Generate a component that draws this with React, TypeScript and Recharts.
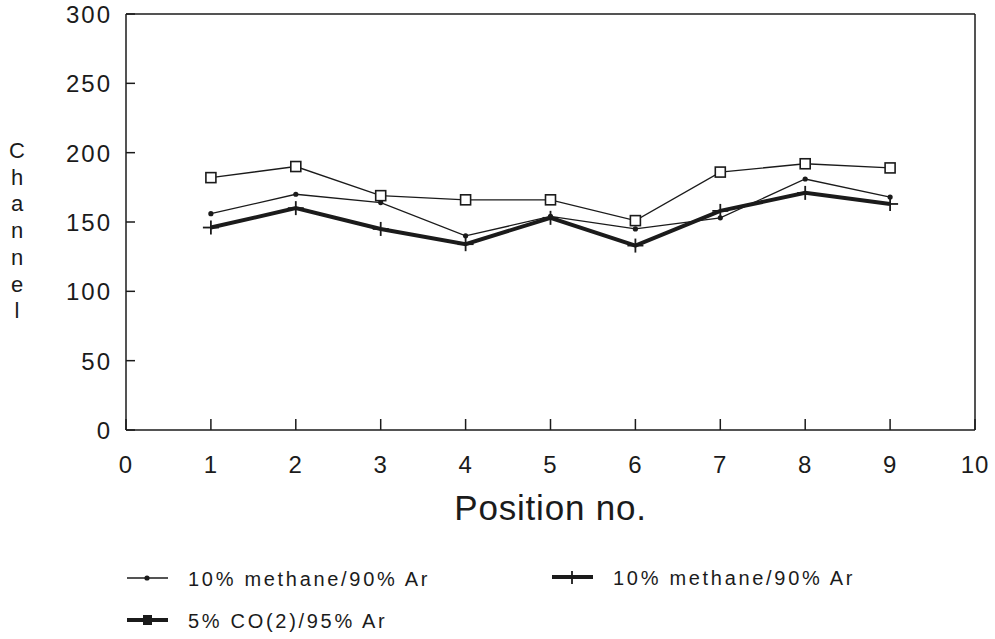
import { LineChart, Line, XAxis, YAxis, ReferenceLine, Legend } from 'recharts'

const positions = [1, 2, 3, 4, 5, 6, 7, 8, 9]
const methaneThin = [156, 170, 164, 140, 154, 145, 153, 181, 168]
const methaneThick = [146, 160, 145, 134, 153, 133, 158, 171, 163]
const co2Argon = [182, 190, 169, 166, 166, 151, 186, 192, 189]

const xTicks = [0, 1, 2, 3, 4, 5, 6, 7, 8, 9, 10]
const yTicks = [0, 50, 100, 150, 200, 250, 300]
const yTitle = 'Channel'.split('')

const seriesLabels = {
    methaneThin: '10% methane/90% Ar',
    methaneThick: '10% methane/90% Ar',
    co2Argon: '5% CO(2)/95% Ar',
}

const data = positions.map((pos, i) => ({
    pos,
    methaneThin: methaneThin[i],
    methaneThick: methaneThick[i],
    co2Argon: co2Argon[i],
}))

const INK = '#1b1b1b'
const FONT = '"Liberation Sans", Arial, sans-serif'

function SmallDot(props: any) {
    const { cx, cy } = props
    if (cx == null || cy == null) return null
    return <circle cx={cx} cy={cy} r={2.6} fill={INK} />
}

function PlusMark(props: any) {
    const { cx, cy } = props
    if (cx == null || cy == null) return null
    return (
        <g stroke={INK} strokeWidth={1.8}>
            <line x1={cx} y1={cy - 7} x2={cx} y2={cy + 7} />
            <line x1={cx - 8} y1={cy} x2={cx + 8} y2={cy} />
        </g>
    )
}

function SquareMark(props: any) {
    const { cx, cy } = props
    if (cx == null || cy == null) return null
    return <rect x={cx - 5} y={cy - 5} width={10} height={10} fill="#fff" stroke={INK} strokeWidth={1.6} />
}

// ticks point into the plot, labels sit outside
function YTick(props: any) {
    const { x, y, payload } = props
    return (
        <g>
            <line x1={x + 14} y1={y} x2={x + 23} y2={y} stroke={INK} strokeWidth={1.5} />
            <text x={x} y={y + 9} textAnchor="end" fontSize={24} letterSpacing={2} fill={INK} fontFamily={FONT}>
                {payload.value}
            </text>
        </g>
    )
}

function XTick(props: any) {
    const { x, y, payload } = props
    return (
        <g>
            <line x1={x} y1={y - 20} x2={x} y2={y - 31} stroke={INK} strokeWidth={1.5} />
            <text x={x} y={y + 23} textAnchor="middle" fontSize={24} letterSpacing={1} fill={INK} fontFamily={FONT}>
                {payload.value}
            </text>
        </g>
    )
}

function YTitle() {
    return (
        <text x={17} y={158} textAnchor="middle" fontSize={22} fill={INK} fontFamily={FONT}>
            {yTitle.map((ch, i) => (
                <tspan key={i} x={17} dy={i === 0 ? 0 : 26.7}>
                    {ch}
                </tspan>
            ))}
        </text>
    )
}

function XTitle(props: any) {
    const { viewBox } = props
    return (
        <text
            x={viewBox.x + viewBox.width / 2}
            y={520}
            textAnchor="middle"
            fontSize={35}
            letterSpacing={0.8}
            fill={INK}
            fontFamily={FONT}
        >
            Position no.
        </text>
    )
}

function LegendSample({ kind, x, y }: { kind: string; x: number; y: number }) {
    if (kind === 'methaneThin') {
        return (
            <g>
                <line x1={x} y1={y} x2={x + 41} y2={y} stroke={INK} strokeWidth={1.5} />
                <circle cx={x + 20} cy={y} r={2.6} fill={INK} />
            </g>
        )
    }
    if (kind === 'methaneThick') {
        return (
            <g stroke={INK}>
                <line x1={x} y1={y} x2={x + 41} y2={y} strokeWidth={4} />
                <line x1={x + 20} y1={y - 6} x2={x + 20} y2={y + 7} strokeWidth={1.8} />
            </g>
        )
    }
    return (
        <g>
            <line x1={x} y1={y} x2={x + 41} y2={y} stroke={INK} strokeWidth={4} />
            <rect x={x + 16} y={y - 5} width={9} height={10} fill={INK} />
        </g>
    )
}

function ChartLegend(props: any) {
    const slots: Record<string, { x: number; y: number }> = {
        methaneThin: { x: 127, y: 23 },
        methaneThick: { x: 552, y: 22 },
        co2Argon: { x: 127, y: 65 },
    }
    const items = (props.payload || []).filter((p: any) => slots[p.dataKey])
    return (
        <svg width={995} height={80} style={{ display: 'block' }}>
            {items.map((item: any) => {
                const s = slots[item.dataKey]
                return (
                    <g key={item.dataKey}>
                        <LegendSample kind={item.dataKey} x={s.x} y={s.y} />
                        <text
                            x={s.x + 61}
                            y={s.y + 8}
                            fontSize={20}
                            letterSpacing={2.7}
                            fill={INK}
                            fontFamily={FONT}
                        >
                            {seriesLabels[item.dataKey as keyof typeof seriesLabels]}
                        </text>
                    </g>
                )
            })}
        </svg>
    )
}

export default function App() {
    return (
        <div style={{ position: 'absolute', left: 0, top: 0, width: 995, height: 639, background: '#fff' }}>
            <LineChart
                width={995}
                height={639}
                data={data}
                margin={{ top: 14, right: 20, bottom: 149, left: 26 }}
            >
                <XAxis
                    dataKey="pos"
                    type="number"
                    domain={[0, 10]}
                    ticks={xTicks}
                    height={60}
                    tickSize={0}
                    tickMargin={20}
                    tick={<XTick />}
                    axisLine={{ stroke: INK, strokeWidth: 1.5 }}
                    tickLine={false}
                    label={<XTitle />}
                />
                <YAxis
                    type="number"
                    domain={[0, 300]}
                    ticks={yTicks}
                    width={100}
                    tickSize={0}
                    tickMargin={14}
                    tick={<YTick />}
                    axisLine={{ stroke: INK, strokeWidth: 1.5 }}
                    tickLine={false}
                    label={<YTitle />}
                />
                <ReferenceLine y={300} stroke={INK} strokeWidth={1.5} />
                <ReferenceLine x={10} stroke={INK} strokeWidth={1.5} />
                <Line
                    dataKey="methaneThin"
                    stroke={INK}
                    strokeWidth={1.3}
                    dot={<SmallDot />}
                    activeDot={false}
                    isAnimationActive={false}
                />
                <Line
                    dataKey="co2Argon"
                    stroke={INK}
                    strokeWidth={1.3}
                    dot={<SquareMark />}
                    activeDot={false}
                    isAnimationActive={false}
                />
                <Line
                    dataKey="methaneThick"
                    stroke={INK}
                    strokeWidth={4}
                    strokeLinejoin="miter"
                    dot={<PlusMark />}
                    activeDot={false}
                    isAnimationActive={false}
                />
                <Legend
                    layout="horizontal"
                    verticalAlign="middle"
                    align="center"
                    content={<ChartLegend />}
                    wrapperStyle={{ left: 0, top: 555, width: 995, height: 80 }}
                />
            </LineChart>
        </div>
    )
}
